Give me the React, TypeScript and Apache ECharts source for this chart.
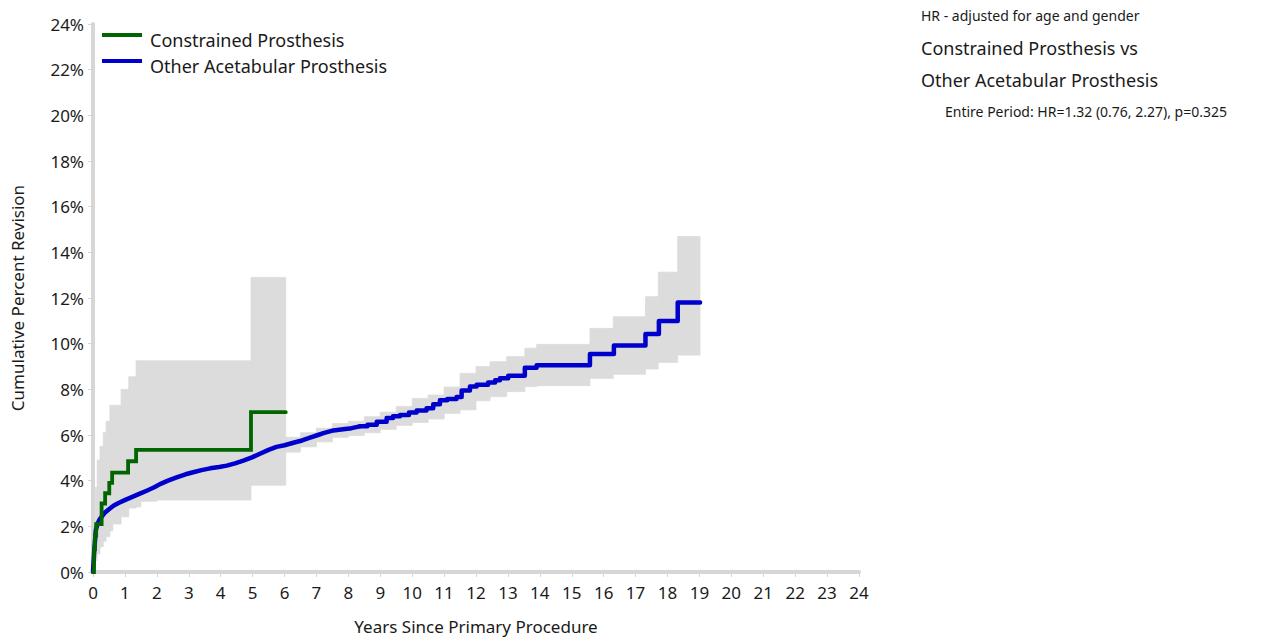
import React, { useEffect, useRef } from 'react';
import * as echarts from 'echarts';

// ---------- Data ----------
const seriesNames = ['Constrained Prosthesis', 'Other Acetabular Prosthesis'];

// Constrained Prosthesis (green) KM estimate
const greenTimes = [0, 0.03, 0.06, 0.1, 0.27, 0.38, 0.51, 0.6, 1.1, 1.35, 4.95, 6.04];
const greenValues = [0, 1.0, 1.6, 2.1, 3.0, 3.45, 3.9, 4.35, 4.85, 5.35, 7.0, 7.0];

// Constrained Prosthesis 95% CI band
const greenBandTimes = [0, 0.03, 0.07, 0.13, 0.22, 0.32, 0.41, 0.53, 0.62, 0.88, 1.12, 1.35, 4.95, 6.04];
const greenLower = [0, 0.2, 0.5, 0.8, 1.1, 1.35, 1.55, 1.8, 2.1, 2.42, 2.8, 3.15, 3.8, 3.8];
const greenUpper = [0.8, 2.2, 3.7, 4.9, 5.5, 6.1, 6.6, 7.3, 7.3, 8.0, 8.55, 9.25, 12.9, 12.9];

// Other Acetabular Prosthesis (blue) KM estimate
const blueTimes = [0, 0.02, 0.04, 0.07, 0.09, 0.14, 0.2, 0.35, 0.5, 0.64, 0.8, 1.03, 1.25, 1.45, 1.7, 1.92, 2.1, 2.35, 2.62, 2.9, 3.14, 3.4, 3.67, 3.95, 4.19, 4.45, 4.71, 5.0, 5.23, 5.5, 5.75, 6.0, 6.28, 6.55, 6.8, 7.05, 7.22, 7.53, 7.84, 8.1, 8.36, 8.6, 8.89, 9.2, 9.4, 9.62, 9.9, 10.14, 10.45, 10.66, 10.87, 11.1, 11.39, 11.55, 11.81, 12.02, 12.38, 12.6, 12.75, 13.01, 13.53, 13.9, 15.57, 16.32, 17.31, 17.73, 18.32, 19.02];
const blueValues = [0, 0.5, 0.96, 1.5, 1.84, 2.1, 2.28, 2.57, 2.75, 2.9, 3.02, 3.17, 3.3, 3.42, 3.57, 3.71, 3.85, 4.0, 4.14, 4.28, 4.37, 4.46, 4.54, 4.6, 4.66, 4.76, 4.88, 5.03, 5.18, 5.35, 5.48, 5.55, 5.66, 5.76, 5.88, 6.0, 6.08, 6.2, 6.25, 6.3, 6.38, 6.45, 6.58, 6.75, 6.82, 6.88, 6.98, 7.07, 7.17, 7.35, 7.52, 7.58, 7.66, 7.95, 8.12, 8.2, 8.3, 8.4, 8.48, 8.6, 8.95, 9.05, 9.55, 9.92, 10.42, 10.99, 11.8, 11.8];

// Other Acetabular Prosthesis 95% CI band
const blueBandTimes = [0, 0.05, 0.1, 0.2, 0.35, 0.5, 0.75, 1.0, 1.5, 2.0, 2.5, 3.0, 3.5, 4.0, 4.5, 5.0, 5.5, 6.0, 6.5, 7.0, 7.5, 8.0, 8.5, 9.0, 9.5, 10.0, 10.5, 11.0, 11.5, 12.0, 12.44, 12.96, 13.53, 13.9, 15.57, 16.3, 17.31, 17.71, 18.32, 19.02];
const blueLower = [0, 0.6, 1.4, 1.9, 2.2, 2.4, 2.65, 2.85, 3.1, 3.4, 3.7, 3.95, 4.15, 4.3, 4.45, 4.7, 5.05, 5.25, 5.48, 5.7, 5.9, 5.98, 6.1, 6.25, 6.42, 6.55, 6.7, 6.95, 7.1, 7.5, 7.68, 7.9, 8.12, 8.16, 8.48, 8.66, 8.89, 9.18, 9.5, 9.5];
const blueUpper = [0.5, 1.6, 2.4, 2.7, 2.95, 3.15, 3.35, 3.5, 3.8, 4.1, 4.4, 4.6, 4.8, 4.95, 5.1, 5.4, 5.7, 5.9, 6.1, 6.3, 6.5, 6.6, 6.8, 7.0, 7.25, 7.6, 7.75, 8.1, 8.7, 9.0, 9.21, 9.43, 9.8, 9.97, 10.67, 11.18, 12.06, 13.13, 14.69, 14.69];

// Blue curve drawn as straight segments before this time, as steps after it
const blueStepFrom = 8.36;

const xMin = 0;
const xMax = 24;
const xInterval = 1;
const yMin = 0;
const yMax = 24;
const yInterval = 2;

const annotationLines = [
  'HR - adjusted for age and gender',
  'Constrained Prosthesis vs',
  'Other Acetabular Prosthesis',
  'Entire Period: HR=1.32 (0.76, 2.27), p=0.325',
];

// ---------- Styles ----------
const FONT = '"Noto Sans", "Open Sans", sans-serif';
const GREEN = '#006400';
const BLUE = '#0000cc';
const BAND = '#dcdcdc';
const AXIS = '#d6d6d6';
const TEXT = '#1a1a1a';
// legend swatch: a 40x4 bar sitting at the top of a 14px-tall box
const LEGEND_ICON = 'path://M0,0L40,0L40,4L0,4Z M0,14L0.01,14Z';

function bandRows(times: number[], lower: number[], upper: number[]) {
  const rows: number[][] = [];
  for (let i = 0; i < times.length - 1; i++) {
    rows.push([times[i], times[i + 1], lower[i], upper[i]]);
  }
  return rows;
}

function pairs(t: number[], v: number[]) {
  return t.map((x, i) => [x, v[i]]);
}

const bandRenderItem = (params: any, api: any) => {
  const p1 = api.coord([api.value(0), api.value(3)]);
  const p2 = api.coord([api.value(1), api.value(2)]);
  return {
    type: 'rect',
    shape: { x: p1[0], y: p1[1], width: p2[0] - p1[0], height: p2[1] - p1[1] },
    style: { fill: BAND, stroke: BAND, lineWidth: 0.8 },
  };
};

export default function App() {
  const ref = useRef<HTMLDivElement>(null);

  useEffect(() => {
    if (!ref.current) return;
    const chart = echarts.init(ref.current, undefined, { renderer: 'svg' });

    const bluePairs = pairs(blueTimes, blueValues);
    const blueSmooth = bluePairs.filter((p) => p[0] <= blueStepFrom);
    const blueStepped = bluePairs.filter((p) => p[0] >= blueStepFrom);

    const option: any = {
      animation: false,
      backgroundColor: '#ffffff',
      textStyle: { fontFamily: FONT, color: TEXT },
      grid: { left: 93, top: 24, width: 766, height: 548, containLabel: false },
      legend: {
        data: seriesNames,
        left: 102,
        top: 30,
        padding: 0,
        orient: 'vertical',
        icon: LEGEND_ICON,
        itemWidth: 40,
        itemHeight: 14,
        itemGap: 6,
        selectedMode: false,
        itemStyle: { borderWidth: 0 },
        textStyle: {
          fontFamily: FONT,
          fontSize: 18,
          color: TEXT,
          lineHeight: 20,
          padding: [0, 0, 0, 3],
        },
      },
      xAxis: {
        type: 'value',
        min: xMin,
        max: xMax,
        interval: xInterval,
        name: 'Years Since Primary Procedure',
        nameLocation: 'middle',
        nameGap: 46,
        nameTextStyle: { fontFamily: FONT, fontSize: 17, color: TEXT },
        axisLine: { show: true, onZero: false, lineStyle: { color: AXIS, width: 4 } },
        axisTick: { show: true, length: 5, lineStyle: { color: AXIS, width: 1 } },
        axisLabel: { fontFamily: FONT, fontSize: 17, color: TEXT, margin: 12 },
        splitLine: { show: false },
      },
      yAxis: {
        type: 'value',
        min: yMin,
        max: yMax,
        interval: yInterval,
        name: 'Cumulative Percent Revision',
        nameLocation: 'middle',
        nameGap: 67,
        nameTextStyle: { fontFamily: FONT, fontSize: 17, color: TEXT },
        axisLine: { show: true, onZero: false, lineStyle: { color: AXIS, width: 4 } },
        axisTick: { show: true, length: 5, lineStyle: { color: AXIS, width: 1 } },
        axisLabel: { fontFamily: FONT, fontSize: 17, color: TEXT, margin: 9, formatter: '{value}%' },
        splitLine: { show: false },
      },
      series: [
        {
          name: 'Constrained Prosthesis 95% CI',
          type: 'custom',
          renderItem: bandRenderItem,
          encode: { x: [0, 1], y: [2, 3] },
          data: bandRows(greenBandTimes, greenLower, greenUpper),
          silent: true,
          z: 1,
        },
        {
          name: 'Other Acetabular Prosthesis 95% CI',
          type: 'custom',
          renderItem: bandRenderItem,
          encode: { x: [0, 1], y: [2, 3] },
          data: bandRows(blueBandTimes, blueLower, blueUpper),
          silent: true,
          z: 1,
        },
        {
          name: seriesNames[1],
          type: 'line',
          data: blueSmooth,
          showSymbol: false,
          lineStyle: { color: BLUE, width: 4.5, cap: 'round', join: 'round' },
          itemStyle: { color: BLUE },
          z: 3,
        },
        {
          name: seriesNames[1],
          type: 'line',
          step: 'end',
          data: blueStepped,
          showSymbol: false,
          lineStyle: { color: BLUE, width: 4.5, cap: 'round', join: 'round' },
          itemStyle: { color: BLUE },
          z: 3,
        },
        {
          name: seriesNames[0],
          type: 'line',
          step: 'end',
          data: pairs(greenTimes, greenValues),
          showSymbol: false,
          lineStyle: { color: GREEN, width: 3.8, cap: 'round', join: 'miter' },
          itemStyle: { color: GREEN },
          z: 4,
        },
      ],
      graphic: [
        {
          type: 'text',
          left: 921,
          top: 8,
          style: { text: annotationLines[0], fontFamily: FONT, fontSize: 14, fill: TEXT },
        },
        {
          type: 'text',
          left: 921,
          top: 39,
          style: { text: annotationLines[1], fontFamily: FONT, fontSize: 18, fill: TEXT },
        },
        {
          type: 'text',
          left: 921,
          top: 71,
          style: { text: annotationLines[2], fontFamily: FONT, fontSize: 18, fill: TEXT },
        },
        {
          type: 'text',
          left: 945,
          top: 104,
          style: { text: annotationLines[3], fontFamily: FONT, fontSize: 14, fill: TEXT },
        },
      ],
    };

    chart.setOption(option);
    return () => chart.dispose();
  }, []);

  return (
    <div
      ref={ref}
      style={{ position: 'fixed', left: 0, top: 0, width: 1269, height: 641, background: '#fff' }}
    />
  );
}
